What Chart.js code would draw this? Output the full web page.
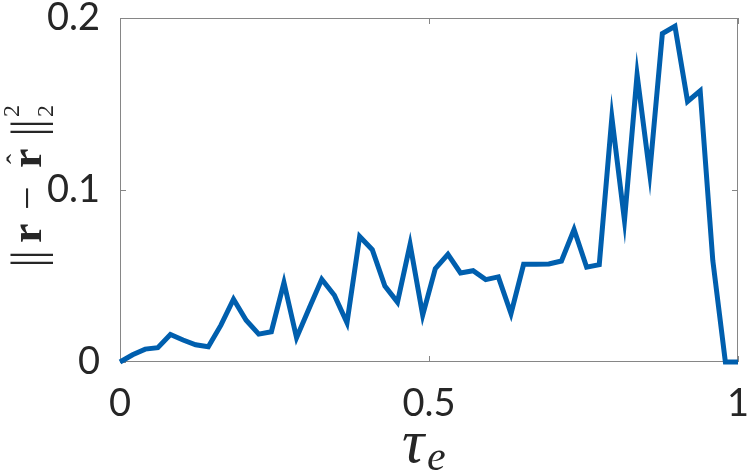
<!DOCTYPE html>
<html>
<head>
<meta charset="utf-8">
<script src="https://cdn.jsdelivr.net/npm/chart.js@4"></script>
<style>
  html, body { margin: 0; padding: 0; background: #fff; }
  #wrap { width: 747px; height: 471px; }
</style>
</head>
<body>
<div id="wrap"><canvas id="errChart" width="747" height="471"></canvas></div>
<script>
// tau_e (eixo x) e erro ||r - r^||^2 (eixo y)
const tau = [0, 0.0204, 0.0408, 0.0612, 0.0816, 0.1020, 0.1224, 0.1429, 0.1633, 0.1837,
    0.2041, 0.2245, 0.2449, 0.2653, 0.2857, 0.3061, 0.3265, 0.3469, 0.3673, 0.3878,
    0.4082, 0.4286, 0.4490, 0.4694, 0.4898, 0.5102, 0.5306, 0.5510, 0.5714, 0.5918,
    0.6122, 0.6327, 0.6531, 0.6735, 0.6939, 0.7143, 0.7347, 0.7551, 0.7755, 0.7959,
    0.8163, 0.8367, 0.8571, 0.8776, 0.8980, 0.9184, 0.9388, 0.9592, 0.9796, 1]
const errors = [0.000, 0.0042, 0.0075, 0.0083, 0.0160, 0.0128, 0.0100, 0.0089, 0.0214, 0.0365,
    0.0243, 0.0162, 0.0176, 0.0462, 0.0141, 0.0313, 0.0481, 0.0388, 0.0228, 0.0730,
    0.0653, 0.0442, 0.0348, 0.0684, 0.0273, 0.0543, 0.0626, 0.0518, 0.0531, 0.0479,
    0.0495, 0.0282, 0.0568, 0.0568, 0.0570, 0.0587, 0.0770, 0.0551, 0.0566, 0.1422,
    0.0823, 0.1670, 0.1097, 0.1910, 0.1952, 0.1515, 0.1577, 0.0591, 0.0000, 0.0000]
const xTicks = [0, 0.5, 1]
const yTicks = [0, 0.1, 0.2]

const axisGray = '#868686'
const textDark = '#262626'
const tickFont = { family: 'Lato', size: 38, lineHeight: 1 }

// caixa estilo MATLAB com ticks para dentro + rotulos dos eixos
const boxPlugin = {
    id: 'boxPlugin',
    beforeDatasetsDraw(chart) {
        const { ctx, chartArea: a, scales } = chart
        ctx.save()
        ctx.strokeStyle = axisGray
        ctx.lineWidth = 1
        ctx.strokeRect(a.left + 0.5, a.top + 0.5, a.right - a.left - 1, a.bottom - a.top - 1)
        ctx.beginPath()
        xTicks.forEach(v => {
            const px = Math.round(scales.x.getPixelForValue(v)) + 0.5
            ctx.moveTo(px, a.bottom); ctx.lineTo(px, a.bottom - 6)
            ctx.moveTo(px, a.top); ctx.lineTo(px, a.top + 6)
        })
        yTicks.forEach(v => {
            const py = Math.round(scales.y.getPixelForValue(v)) + 0.5
            ctx.moveTo(a.left, py); ctx.lineTo(a.left + 6, py)
            ctx.moveTo(a.right, py); ctx.lineTo(a.right - 6, py)
        })
        ctx.stroke()

        // titulo x: tau_e
        ctx.fillStyle = textDark
        ctx.textBaseline = 'alphabetic'
        ctx.textAlign = 'left'
        const cx = (a.left + a.right) / 2
        ctx.font = 'italic 62px "Liberation Serif"'
        ctx.fillText('τ', cx - 27, 462)
        ctx.font = 'italic 42px "Liberation Serif"'
        ctx.fillText('e', cx - 2, 470)

        // titulo y: ||r - r^||_2^2 (girado)
        ctx.translate(41, 265)
        ctx.rotate(-Math.PI / 2)
        ctx.textAlign = 'center'
        ctx.font = '46px "Liberation Serif"'
        ctx.fillText('|', 2, 2)
        ctx.fillText('|', 10, 2)
        ctx.fillText('|', 133, 2)
        ctx.fillText('|', 141, 2)
        ctx.textAlign = 'left'
        ctx.font = 'bold 44px "Liberation Serif"'
        ctx.fillText('r', 22, 0)
        ctx.font = '42px "Liberation Serif"'
        ctx.fillText('−', 55, 0)
        ctx.font = 'bold 44px "Liberation Serif"'
        ctx.fillText('r', 97, 0)
        ctx.font = '30px "Liberation Serif"'
        ctx.fillText('ˆ', 101, -14)
        ctx.font = '24px "Liberation Serif"'
        ctx.fillText('2', 148, -22)
        ctx.fillText('2', 148, 12)
        ctx.restore()
    }
}

const ctx = document.getElementById('errChart').getContext('2d')
const errChart = new Chart(ctx, {
    type: 'line',
    data: {
        datasets: [{
            data: tau.map((t, i) => ({ x: t, y: errors[i] })),
            borderColor: '#005fae',
            borderWidth: 5,
            pointRadius: 0,
            tension: 0,
            fill: false,
            clip: false
        }]
    },
    options: {
        responsive: false,
        animation: false,
        layout: { padding: { top: 18, right: 9, left: 0, bottom: 0 } },
        plugins: {
            legend: { display: false },
            tooltip: { enabled: false }
        },
        scales: {
            x: {
                type: 'linear',
                min: 0,
                max: 1,
                grid: { display: false },
                border: { display: false },
                afterFit: scale => {
                    scale.height = 109
                    scale.paddingLeft = 0
                    scale.paddingRight = 0
                },
                afterBuildTicks: scale => { scale.ticks = xTicks.map(v => ({ value: v })) },
                ticks: {
                    color: textDark,
                    font: tickFont,
                    padding: 15,
                    maxRotation: 0,
                    callback: v => String(v)
                }
            },
            y: {
                min: 0,
                max: 0.2,
                grid: { display: false },
                border: { display: false },
                afterFit: scale => {
                    scale.width = 120
                    scale.paddingTop = 0
                    scale.paddingBottom = 0
                },
                afterBuildTicks: scale => { scale.ticks = yTicks.map(v => ({ value: v })) },
                ticks: {
                    color: textDark,
                    font: tickFont,
                    padding: 12,
                    callback: v => String(v)
                }
            }
        }
    },
    plugins: [boxPlugin]
})
</script>
</body>
</html>
